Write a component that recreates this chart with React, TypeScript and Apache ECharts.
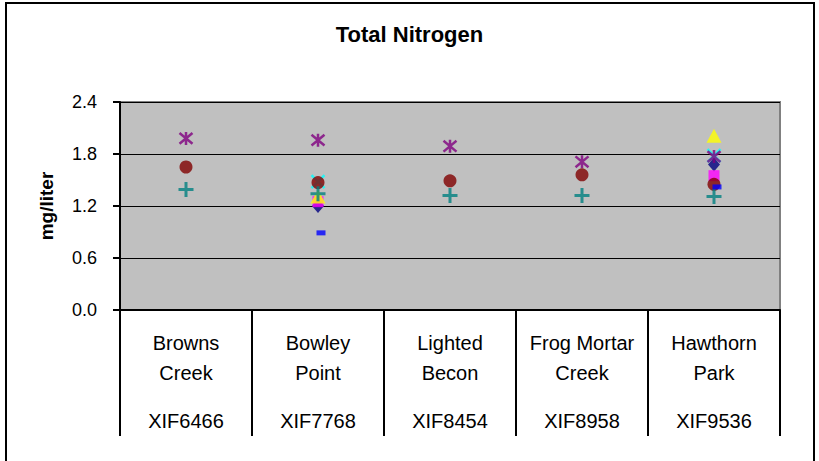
import React, { useEffect, useRef } from "react";
import * as echarts from "echarts";

const siteLine1 = ["Browns", "Bowley", "Lighted", "Frog Mortar", "Hawthorn"];
const siteLine2 = ["Creek", "Point", "Becon", "Creek", "Park"];
const siteCodes = ["XIF6466", "XIF7768", "XIF8454", "XIF8958", "XIF9536"];
const yTicks = [0, 0.6, 1.2, 1.8, 2.4];

const s1Diamond = [null, 1.2, null, null, 1.68];
const s2Square = [null, 1.25, null, null, 1.55];
const s3Triangle = [null, 1.31, null, null, 2.01];
const s4Cross = [null, 1.48, null, null, 1.78];
const s5Star = [1.98, 1.96, 1.89, 1.71, 1.77];
const s6Circle = [1.65, 1.47, 1.49, 1.56, 1.45];
const s7Plus = [1.39, 1.34, 1.32, 1.32, 1.31];
const s8Dash = [null, 0.89, null, null, 1.42];

const FONT = "'Liberation Sans', Arial, sans-serif";

const PLUS = "path://M4,0H6V4H10V6H6V10H4V6H0V4H4Z";
const XMARK = "path://M0,0L10,10M10,0L0,10";
const STAR = "path://M0,0L10,10M10,0L0,10M5,-1L5,11";

export default function App() {
  const ref = useRef<HTMLDivElement>(null);
  useEffect(() => {
    if (!ref.current) return;
    const chart = echarts.init(ref.current, null, { renderer: "svg" });
    const cats = siteLine1.map((_, i) => String(i));
    const stroked = (name: string, data: any[], symbol: string, size: number, color: string, w: number) => ({
      name,
      type: "scatter",
      data,
      symbol,
      symbolSize: size,
      itemStyle: { color: "none", borderColor: color, borderWidth: w },
    });
    const filled = (name: string, data: any[], symbol: string, size: any, color: string, extra: any = {}) => ({
      name,
      type: "scatter",
      data,
      symbol,
      symbolSize: size,
      itemStyle: { color },
      ...extra,
    });
    chart.setOption({
      animation: false,
      backgroundColor: "#ffffff",
      textStyle: { fontFamily: FONT },
      title: {
        text: "Total Nitrogen",
        left: "center",
        top: 18,
        textStyle: { fontFamily: FONT, fontSize: 22, fontWeight: "bold", color: "#000" },
      },
      graphic: [
        {
          type: "rect",
          shape: { x: 6, y: 3, width: 808, height: 520 },
          style: { fill: "none", stroke: "#000", lineWidth: 2 },
          silent: true,
        },
      ],
      grid: {
        left: 120,
        right: 39,
        top: 102,
        bottom: 151,
        show: true,
        backgroundColor: "#C0C0C0",
        borderColor: "#808080",
        borderWidth: 2,
      },
      xAxis: {
        type: "category",
        data: cats,
        axisLine: { lineStyle: { color: "#000", width: 2 } },
        axisTick: { show: true, length: 126, lineStyle: { color: "#000", width: 2 } },
        axisLabel: {
          interval: 0,
          margin: 18,
          formatter: (_v: string, i: number) =>
            `{a|${siteLine1[i]}}\n{a|${siteLine2[i]}}\n{b|${siteCodes[i]}}`,
          rich: {
            a: { fontFamily: FONT, fontSize: 20, lineHeight: 30, color: "#000" },
            b: { fontFamily: FONT, fontSize: 20, lineHeight: 66, color: "#000" },
          },
        },
      },
      yAxis: {
        type: "value",
        min: 0,
        max: 2.4,
        interval: 0.6,
        name: "mg/liter",
        nameLocation: "middle",
        nameRotate: 90,
        nameGap: 64,
        nameTextStyle: { fontFamily: FONT, fontSize: 19, fontWeight: "bold", color: "#000" },
        axisLine: { show: true, lineStyle: { color: "#000", width: 2 } },
        axisTick: { show: true, length: 7, lineStyle: { color: "#000", width: 2 } },
        axisLabel: {
          margin: 23,
          fontFamily: FONT,
          fontSize: 18,
          color: "#000",
          formatter: (v: number) => (yTicks.includes(+v.toFixed(1)) ? v.toFixed(1) : ""),
        },
        splitLine: { show: true, lineStyle: { color: "#000", width: 1 } },
      },
      series: [
        filled("Series 1", s1Diamond, "diamond", [12, 14], "#000080"),
        filled("Series 2", s2Square, "rect", 11, "#FF00FF"),
        filled("Series 3", s3Triangle, "triangle", [15, 14], "#FFFF00"),
        stroked("Series 4", s4Cross, XMARK, 13, "#00FFFF", 2.5),
        stroked("Series 5", s5Star, STAR, 13, "#800080", 2.5),
        filled("Series 6", s6Circle, "circle", 13, "#800000"),
        filled("Series 7", s7Plus, PLUS, 15, "#008080"),
        filled("Series 8", s8Dash, "rect", [9, 5], "#0000FF", { symbolOffset: [3, 0] }),
      ],
    });
    return () => chart.dispose();
  }, []);
  return (
    <div
      ref={ref}
      style={{ position: "fixed", left: 0, top: 0, width: 819, height: 461 }}
    />
  );
}
